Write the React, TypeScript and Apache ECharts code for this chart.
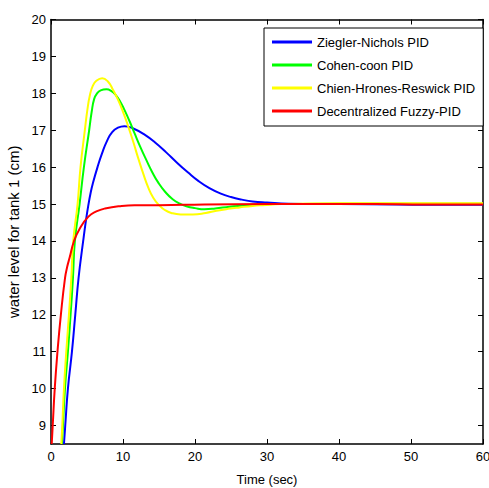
import React, { useEffect, useRef } from "react";
import * as echarts from "echarts";

const seriesNames = [
  "Ziegler-Nichols PID",
  "Cohen-coon PID",
  "Chien-Hrones-Reswick PID",
  "Decentralized Fuzzy-PID",
];
const seriesColors = ["#0000ff", "#00ff00", "#ffff00", "#ff0000"];

// Ziegler-Nichols PID
const znTime = [1.8, 1.98, 2.35, 2.91, 3.37, 3.83, 4.47, 4.85, 5.17, 5.5, 5.8, 6.46, 7.1, 7.8, 8.5, 9.3, 10.2, 11.5, 13, 14.5, 16, 17.5, 19, 20.5, 22, 23.5, 25, 26.5, 28, 30, 33, 40, 48, 53, 60];
const znLevel = [8.5, 9, 10, 11, 12, 13, 14, 14.55, 14.95, 15.3, 15.55, 16, 16.38, 16.72, 16.95, 17.07, 17.11, 17.04, 16.88, 16.66, 16.4, 16.12, 15.86, 15.62, 15.43, 15.29, 15.19, 15.12, 15.07, 15.04, 15.01, 15.0, 14.99, 14.98, 14.98];

// Cohen-coon PID
const ccTime = [1.52, 1.66, 1.94, 2.35, 2.72, 3.05, 3.32, 3.97, 4.57, 5.3, 5.65, 6.0, 6.4, 6.9, 7.7, 8.4, 9.0, 9.6, 10.2, 10.9, 11.6, 12.4, 13.25, 14.1, 14.9, 15.9, 16.9, 17.9, 18.8, 20, 21.3, 22.8, 24.8, 26.6, 28.5, 32, 40, 52, 60];
const ccLevel = [8.5, 9, 10, 11, 12, 13, 14, 15, 16, 17, 17.5, 17.85, 18.0, 18.08, 18.11, 18.06, 17.95, 17.78, 17.55, 17.25, 16.92, 16.55, 16.19, 15.85, 15.58, 15.32, 15.13, 15.01, 14.94, 14.89, 14.86, 14.88, 14.93, 14.96, 14.99, 15.0, 15.01, 15.01, 15.01];

// Chien-Hrones-Reswick PID
const chrTime = [1.43, 1.57, 1.8, 2.12, 2.49, 2.82, 3.09, 3.69, 4.1, 4.7, 5.05, 5.4, 5.8, 6.3, 7.1, 7.9, 8.6, 9.3, 10.0, 10.7, 11.4, 12.1, 12.8, 13.5, 14.2, 15.0, 15.8, 16.7, 18.0, 19.7, 21.5, 23, 24.6, 26.2, 28, 29.4, 32, 40, 52, 60];
const chrLevel = [8.5, 9, 10, 11, 12, 13, 14, 15, 16, 17, 17.55, 17.95, 18.2, 18.34, 18.41, 18.32, 18.1, 17.83, 17.5, 17.12, 16.7, 16.25, 15.83, 15.45, 15.17, 14.97, 14.84, 14.76, 14.72, 14.72, 14.76, 14.82, 14.87, 14.91, 14.95, 14.97, 15.0, 15.02, 15.02, 15.02];

// Decentralized Fuzzy-PID
const fuzzyTime = [0.1, 0.24, 0.52, 0.9, 1.37, 1.95, 2.25, 2.59, 3.2, 4.0, 5.2, 6.3, 7.5, 9.8, 11.6, 15, 21.3, 30, 45, 52, 60];
const fuzzyLevel = [8.5, 9, 10, 11, 12, 13, 13.3, 13.55, 14.0, 14.34, 14.66, 14.8, 14.88, 14.95, 14.97, 14.97, 14.99, 15.0, 15.0, 14.99, 14.99];

const xTicks = [0, 10, 20, 30, 40, 50, 60];
const yTicks = [9, 10, 11, 12, 13, 14, 15, 16, 17, 18, 19, 20];

const seriesTimes = [znTime, ccTime, chrTime, fuzzyTime];
const seriesLevels = [znLevel, ccLevel, chrLevel, fuzzyLevel];

export default function App() {
  const ref = useRef<HTMLDivElement>(null);
  useEffect(() => {
    const chart = echarts.init(ref.current!, null, { renderer: "svg" });
    const font = "'Liberation Sans', Arial, sans-serif";
    const axisLine = { show: true, onZero: false, lineStyle: { color: "#000", width: 1.5 } };
    const tick = { show: true, inside: true, length: 5, lineStyle: { color: "#000", width: 1 } };
    chart.setOption({
      animation: false,
      backgroundColor: "#fff",
      textStyle: { fontFamily: font },
      grid: { left: 51, right: 6, top: 19.5, bottom: 44, containLabel: false, outerBoundsMode: "none" },
      legend: {
        show: true,
        orient: "vertical",
        left: 264,
        top: 28,
        icon: "rect",
        itemWidth: 40,
        itemHeight: 3,
        itemGap: 7,
        itemTextGap: 5,
        padding: [6, 8, 7, 8],
        borderColor: "#000",
        borderWidth: 1,
        borderRadius: 0,
        backgroundColor: "#fff",
        textStyle: { fontFamily: font, fontSize: 13, color: "#000", lineHeight: 16 },
        data: seriesNames,
      },
      xAxis: [
        {
          type: "value",
          position: "bottom",
          min: 0,
          max: 60,
          interval: 10,
          name: "Time (sec)",
          nameLocation: "middle",
          nameGap: 29,
          nameTextStyle: { fontFamily: font, fontSize: 13, color: "#000" },
          axisLine,
          axisTick: tick,
          axisLabel: {
            margin: 6,
            fontFamily: font,
            fontSize: 13,
            color: "#000",
            customValues: xTicks,
            alignMinLabel: "center",
            alignMaxLabel: "center",
          },
          splitLine: { show: false },
        },
        {
          type: "value",
          position: "top",
          min: 0,
          max: 60,
          interval: 10,
          axisLine,
          axisTick: tick,
          axisLabel: { show: false },
          splitLine: { show: false },
        },
      ],
      yAxis: [
        {
          type: "value",
          position: "left",
          min: 8.5,
          max: 20,
          name: "water level for tank 1 (cm)",
          nameLocation: "middle",
          nameGap: 23,
          nameTextStyle: { fontFamily: font, fontSize: 15, color: "#000" },
          axisLine,
          axisTick: { ...tick, customValues: yTicks },
          axisLabel: { margin: 5, fontFamily: font, fontSize: 13, color: "#000", customValues: yTicks },
          splitLine: { show: false },
        },
        {
          type: "value",
          position: "right",
          min: 8.5,
          max: 20,
          axisLine,
          axisTick: { ...tick, customValues: yTicks },
          axisLabel: { show: false },
          splitLine: { show: false },
        },
      ],
      series: seriesNames.map((name, i) => ({
        name,
        type: "line",
        xAxisIndex: 0,
        yAxisIndex: 0,
        data: seriesTimes[i].map((t, j) => [t, seriesLevels[i][j]]),
        showSymbol: false,
        symbol: "none",
        smooth: 0.5,
        clip: true,
        color: seriesColors[i],
        lineStyle: { color: seriesColors[i], width: 2 },
        itemStyle: { color: seriesColors[i] },
      })),
    });
    return () => chart.dispose();
  }, []);
  return (
    <div
      ref={ref}
      style={{ position: "absolute", left: 0, top: 0, width: 489, height: 488 }}
    />
  );
}
